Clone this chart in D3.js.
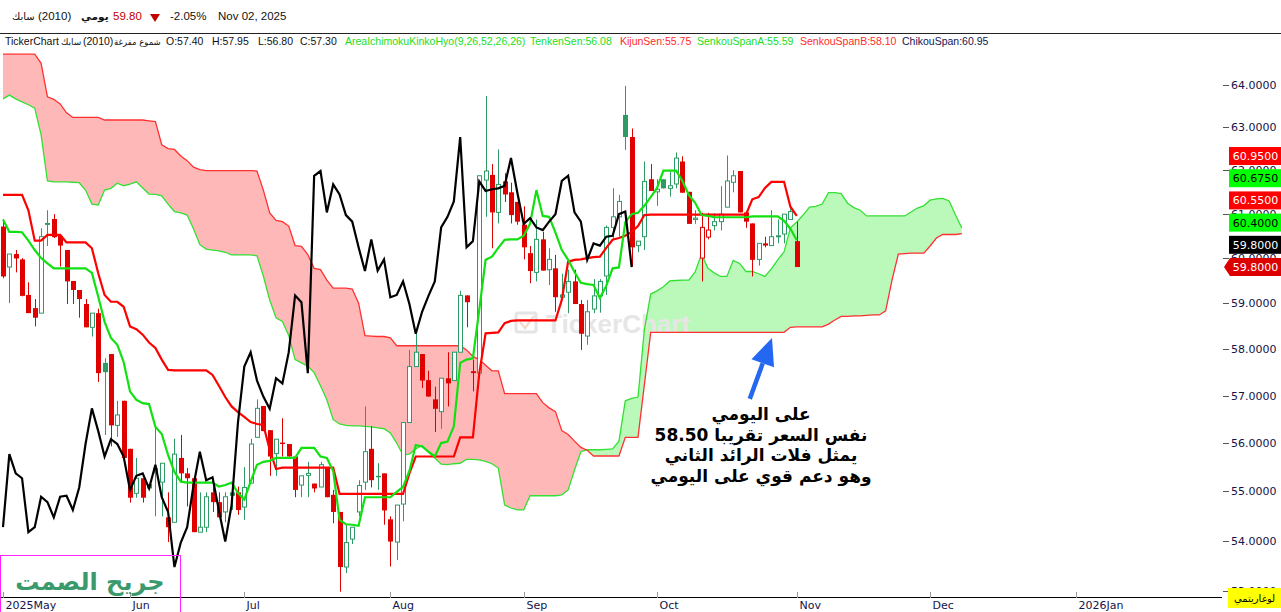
<!DOCTYPE html>
<html><head><meta charset="utf-8">
<script src="https://cdn.jsdelivr.net/npm/d3@7/dist/d3.min.js"></script>
<style>
html,body{margin:0;padding:0;background:#fff;overflow:hidden}
svg{display:block}
</style></head><body>
<svg id="chart" width="1281" height="612"></svg>
<script>
// ---------- DATA ----------
const opens=[60.71,59.80,60.09,59.97,59.18,58.89,58.78,60.76,60.88,60.50,
 60.18,59.49,59.29,58.98,58.47,58.78,57.70,57.89,56.37,56.89,
 55.88,54.96,55.27,55.15,55.48,55.19,54.47,54.37,55.69,55.37,
 55.27,54.17,54.27,54.98,54.78,54.58,54.98,54.98,54.68,55.17,
 56.12,56.78,56.27,55.78,56.01,55.98,55.72,55.13,55.33,55.16,
 55.09,55.48,54.93,54.58,53.47,54.03,54.58,55.19,55.88,55.32,
 55.37,54.43,53.97,54.74,56.43,57.62,57.89,57.33,56.92,56.66,
 57.37,57.32,57.93,59.17,57.52,57.48,61.77,61.89,61.03,61.74,
 61.49,61.27,60.75,60.11,59.68,60.42,59.74,59.77,59.13,59.24,
 59.48,58.98,58.28,58.87,59.16,59.60,60.69,60.93,63.29,62.77,
 60.28,60.48,61.79,61.50,61.79,61.58,61.68,62.20,61.50,60.87,
 60.00,60.47,60.73,60.82,61.15,61.72,61.98,61.03,60.78,59.97,
 60.33,60.28,60.48,60.54,60.87,60.38];
const highs=[60.87,60.09,60.18,60.00,59.46,59.09,60.67,61.08,60.99,60.50,
 60.18,59.49,59.29,59.09,58.78,58.88,57.80,57.89,56.89,56.89,
 55.88,55.69,55.27,55.15,56.35,55.58,54.98,56.09,56.17,55.48,
 55.27,54.98,54.98,55.10,54.98,54.98,55.10,55.10,55.50,56.09,
 56.92,56.78,56.27,56.08,56.52,55.98,55.72,55.32,55.61,55.16,
 55.61,55.48,55.03,54.58,54.32,54.27,55.23,56.77,56.35,55.58,
 55.37,54.49,54.72,56.43,57.98,58.33,57.89,57.53,57.19,57.37,
 57.93,57.93,59.27,59.17,57.77,61.87,63.74,62.14,62.48,61.93,
 61.71,61.27,61.17,60.27,60.87,60.59,60.22,60.07,59.65,59.74,
 59.74,59.07,59.07,59.53,59.53,60.73,61.58,61.43,63.98,62.97,
 60.38,62.20,62.14,61.79,61.79,61.96,62.41,62.32,61.50,61.08,
 61.02,61.02,61.01,61.63,62.34,62.00,61.98,61.03,60.78,60.33,
 60.48,61.08,60.87,60.99,61.20,60.82];
const lows=[59.55,59.00,59.68,59.15,58.78,58.49,58.78,60.27,60.45,59.81,
 58.98,58.98,58.68,58.47,58.27,57.29,56.17,55.93,56.13,55.69,
 54.77,54.87,54.77,55.06,54.49,54.49,53.97,54.37,55.19,54.69,
 54.17,54.17,54.17,54.58,54.47,54.37,54.62,54.52,54.42,55.17,
 56.12,56.25,55.32,55.32,55.72,55.72,54.88,54.88,54.88,54.98,
 55.09,54.88,54.35,52.98,53.35,53.93,54.49,55.03,55.08,55.03,
 54.32,53.48,53.61,54.39,56.43,57.62,57.16,56.98,56.23,56.30,
 56.77,57.32,57.93,58.47,57.09,57.48,60.93,60.22,60.78,61.27,
 60.78,60.75,59.97,59.44,59.48,59.72,59.40,58.81,59.13,58.78,
 58.98,57.98,58.09,58.78,58.79,59.18,60.42,60.48,62.47,59.81,
 60.13,60.18,61.52,61.18,61.58,61.39,61.58,61.48,60.77,60.77,
 59.48,60.42,60.62,60.62,61.15,61.49,61.03,60.68,59.59,59.83,
 60.24,60.28,60.33,60.33,60.87,59.80];
const closes=[59.59,60.09,59.99,59.16,58.78,58.68,60.48,60.78,60.47,60.28,
 59.48,59.29,59.09,58.47,58.78,57.48,57.50,56.37,56.59,55.69,
 54.87,55.27,54.87,55.06,55.37,55.58,54.27,55.77,55.37,55.27,
 54.17,54.27,54.89,54.78,54.47,54.89,54.91,54.62,55.08,55.98,
 56.73,56.25,55.72,56.08,55.98,55.72,55.03,55.32,55.37,55.06,
 55.55,54.88,54.58,53.47,53.96,54.27,55.12,55.82,55.23,55.29,
 54.61,53.98,54.72,56.43,57.62,57.93,57.32,56.98,56.72,57.37,
 57.26,57.93,59.17,59.02,57.48,61.87,61.98,61.03,61.67,61.44,
 60.97,60.82,60.24,59.71,60.42,59.72,59.97,59.13,59.18,59.48,
 58.98,58.33,58.81,59.16,59.48,60.69,60.93,61.28,62.77,60.24,
 60.38,61.74,61.52,61.56,61.58,61.64,62.28,61.48,60.77,60.90,
 60.69,60.63,60.82,60.99,61.75,61.87,61.03,60.82,59.96,60.33,
 60.28,60.48,60.50,60.99,61.05,59.80];
const tenkanSen=[60.87,60.59,60.59,60.58,60.39,60.18,60.00,59.88,59.77,59.77,
 59.77,59.77,59.77,59.77,59.67,59.14,58.59,58.24,58.09,57.72,
 57.09,56.91,56.84,56.82,56.34,56.19,55.75,55.40,55.20,55.18,
 55.18,55.18,55.18,55.18,55.10,55.13,55.18,54.97,54.83,55.20,
 55.55,55.61,55.63,55.69,55.69,55.69,55.69,55.90,55.90,55.90,
 55.72,55.69,55.42,54.42,54.33,54.32,54.30,54.88,54.88,54.88,
 54.88,54.88,54.99,55.09,55.42,55.96,55.93,55.82,55.72,56.00,
 56.03,56.35,57.70,57.77,57.80,58.85,59.96,60.03,60.23,60.41,
 60.42,60.42,60.50,60.77,61.54,60.95,60.93,60.57,60.18,59.96,
 59.69,59.45,59.42,59.40,59.11,59.38,59.77,59.79,60.81,60.99,
 61.02,61.18,61.38,61.59,61.99,61.99,61.99,61.75,61.43,61.25,
 60.97,60.95,60.92,60.92,60.92,60.92,60.92,60.92,60.94,60.94,
 60.94,60.94,60.94,60.84,60.66,60.40];
const kijunSen=[61.43,61.43,61.43,61.43,61.08,60.39,60.39,60.52,60.52,60.52,
 60.35,60.35,60.35,60.35,60.22,59.66,59.18,59.03,59.03,58.92,
 58.49,58.43,58.31,58.14,58.02,57.77,57.55,57.54,57.54,57.54,
 57.54,57.54,57.54,57.44,57.21,56.97,56.77,56.65,56.55,56.44,
 56.40,56.38,55.86,55.46,55.49,55.49,55.49,55.49,55.49,55.49,
 55.49,55.49,55.49,54.95,54.95,54.95,54.95,54.95,54.95,54.95,
 54.95,54.95,54.95,54.95,55.37,55.72,55.72,55.72,55.72,55.72,
 55.72,55.72,56.12,56.12,56.12,57.47,58.34,58.35,58.36,58.56,
 58.61,58.62,58.62,58.62,58.62,58.62,58.62,58.62,59.07,59.92,
 59.96,59.97,60.00,60.02,60.03,60.23,60.41,60.45,60.50,60.59,
 60.72,60.97,60.98,60.98,60.98,60.98,60.98,60.98,60.98,60.98,
 60.98,60.98,60.98,60.98,60.98,60.98,60.98,60.98,61.33,61.38,
 61.59,61.73,61.73,61.73,61.16,60.95];
const senkouSpanA=[63.67,63.76,63.67,63.60,63.53,63.45,62.82,61.75,61.73,61.73,
 61.73,61.72,61.71,61.54,61.22,61.20,61.54,61.58,61.70,61.64,
 61.68,61.73,61.59,61.45,61.44,61.41,61.22,61.05,61.02,60.97,
 60.66,60.30,60.20,60.18,60.16,60.13,60.07,60.07,60.07,60.07,
 60.05,59.60,59.07,58.68,58.60,58.29,57.77,57.70,57.63,57.49,
 57.21,56.91,56.49,56.40,56.37,56.36,56.36,56.35,56.34,56.32,
 56.30,56.21,56.00,55.75,55.77,55.88,55.95,55.81,55.69,55.56,
 55.55,55.57,55.58,55.66,55.66,55.65,55.62,55.57,55.48,54.72,
 54.66,54.62,54.62,54.91,54.91,54.91,54.91,54.91,54.93,55.03,
 55.44,55.82,55.86,55.86,55.86,55.87,55.88,56.04,56.89,56.94,
 56.97,58.41,59.20,59.27,59.36,59.49,59.50,59.51,59.51,59.69,
 60.09,59.77,59.67,59.59,59.59,59.95,59.88,59.70,59.70,59.65,
 59.59,59.76,59.96,60.14,60.68,60.81,60.97,61.15,61.17,61.22,
 61.48,61.48,61.46,61.24,61.14,61.08,60.95,60.95,60.95,60.95,
 60.95,60.95,60.95,61.04,61.13,61.18,61.31,61.34,61.35,61.29,
 60.97,60.675];
const senkouSpanB=[64.74,64.74,64.74,64.74,64.74,64.74,64.52,63.72,63.66,63.55,
 63.34,63.23,63.23,63.23,63.23,63.23,63.17,63.17,63.17,63.17,
 63.17,63.17,63.17,63.15,63.13,62.59,62.50,62.48,62.33,62.22,
 62.07,62.01,61.99,61.99,61.99,61.99,61.99,61.99,61.99,61.99,
 61.98,61.54,61.02,60.85,60.82,60.72,60.28,60.26,60.08,59.77,
 59.74,59.51,59.33,59.33,59.33,59.31,59.00,58.29,58.28,58.27,
 58.27,58.24,58.07,58.07,58.07,58.07,58.07,58.07,58.07,58.07,
 58.07,58.07,58.07,57.98,57.84,57.77,57.65,57.53,57.53,57.04,
 57.04,57.04,57.04,57.04,57.04,56.85,56.74,56.66,56.26,56.18,
 56.04,55.91,55.85,55.73,55.73,55.73,55.73,55.73,56.12,56.12,
 56.12,57.23,58.36,58.36,58.36,58.36,58.36,58.36,58.36,58.36,
 58.36,58.36,58.36,58.36,58.36,58.36,58.36,58.36,58.36,58.36,
 58.36,58.36,58.36,58.36,58.47,58.48,58.48,58.48,58.48,58.48,
 58.54,58.63,58.71,58.71,58.72,58.72,58.73,58.74,58.74,58.83,
 59.51,60.09,60.10,60.11,60.11,60.11,60.27,60.45,60.53,60.53,
 60.53,60.55];
const chikouShift=26;
const chikouSpan=closes.slice(chikouShift); // close plotted 26 bars back
const monthTickIndex=[0,20,38,61,82,103,125,146,169];
const monthTickLabels=["2025May","Jun","Jul","Aug","Sep","Oct","Nov","Dec","2026Jan"];
const priceTicks=[53,54,55,56,57,58,59,60,61,62,63,64];
const lastLabels=[
 {name:"Kijun",value:60.95,kind:"red"},
 {name:"SpanA",value:60.675,kind:"green"},
 {name:"SpanB",value:60.55,kind:"red"},
 {name:"Tenkan",value:60.40,kind:"green"},
 {name:"Chikou",value:59.80,kind:"black"},
 {name:"Price",value:59.80,kind:"price"}];
const noteLines=["على اليومي","نفس السعر تقريبا 58.50","يمثل فلات الرائد الثاني","وهو دعم قوي على اليومي"];

// ---------- LAYOUT ----------
const svg=d3.select("#chart");
const plotRight=1222, plotTop=48, plotBottom=597;
const x=d3.scaleLinear().domain([0,169]).range([3,1076.15]);
const y=d3.scaleLog().domain([53,64]).range([590.7,85]);
const F="'Liberation Sans',Arial,sans-serif";
const FA="'DejaVu Sans',sans-serif";

svg.append("rect").attr("width",1281).attr("height",612).attr("fill","#fff");
const defs=svg.append("defs");
defs.append("clipPath").attr("id","clip").append("rect")
 .attr("x",0).attr("y",plotTop).attr("width",plotRight).attr("height",plotBottom-plotTop);

// header
const hdr=svg.append("g");
function ht(t,xx,yy,col,fam,size,weight){hdr.append("text").attr("x",xx).attr("y",yy).attr("fill",col).attr("font-family",fam).attr("font-size",size).attr("font-weight",weight||"normal").text(t);}
ht("سابك",12,20,"#111",FA,10);
ht("(2010)",38,20,"#111",F,11.5);
ht("يومي",81,20,"#111",FA,10.5,"bold");
ht("59.80",113,20,"#c00000",F,11.5);
hdr.append("path").attr("d","M150,14 L160,14 L155,22 Z").attr("fill","#c00000");
ht("-2.05%",170,20,"#111",F,11.5);
ht("Nov 02, 2025",218,20,"#111",F,11.5);
svg.append("line").attr("x1",0).attr("x2",1281).attr("y1",33.5).attr("y2",33.5).attr("stroke","#222").attr("stroke-width",1);
ht("TickerChart",5,45,"#111",F,10.5);
ht("سابك",61,45,"#111",FA,9);
ht("(2010)",83,45,"#111",F,10.5);
ht("شموع مفرغة",114,45,"#111",FA,8.5);
ht("O:57.40",166,45,"#111",F,10.5);
ht("H:57.95",212,45,"#111",F,10.5);
ht("L:56.80",258,45,"#111",F,10.5);
ht("C:57.30",300,45,"#111",F,10.5);
ht("AreaIchimokuKinkoHyo(9,26,52,26,26)",345,45,"#22dd22",F,10.5);
ht("TenkenSen:56.08",530,45,"#22dd22",F,10.5);
ht("KijunSen:55.75",620,45,"#ff2a2a",F,10.5);
ht("SenkouSpanA:55.59",697,45,"#22dd22",F,10.5);
ht("SenkouSpanB:58.10",800,45,"#ff2a2a",F,10.5);
ht("ChikouSpan:60.95",902,45,"#141450",F,10.5);

const g=svg.append("g").attr("clip-path","url(#clip)");

// cloud
const cIdx=d3.range(senkouSpanA.length);
const pinkArea=d3.area().x(i=>x(i)).y0(i=>y(senkouSpanA[i])).y1(i=>y(Math.max(senkouSpanA[i],senkouSpanB[i])));
const greenArea=d3.area().x(i=>x(i)).y0(i=>y(senkouSpanB[i])).y1(i=>y(Math.max(senkouSpanA[i],senkouSpanB[i])));
g.append("path").attr("d",pinkArea(cIdx)).attr("fill","#ffb8b8");
g.append("path").attr("d",greenArea(cIdx)).attr("fill","#bbf9bb");

// watermark (over the cloud, under the marks)
const wm=g.append("g");
wm.append("rect").attr("x",516).attr("y",313).attr("width",20).attr("height",19).attr("rx",2).attr("fill","none").attr("stroke","#e4e4e4").attr("stroke-width",3);
wm.append("path").attr("d","M520,322 L525,328 L534,316").attr("fill","none").attr("stroke","#f3dcc8").attr("stroke-width",2.5);
wm.append("text").attr("x",546).attr("y",333).attr("font-family",F).attr("font-weight","bold").attr("font-size",26).attr("fill","#e6e6e6").text("TickerChart");

const ln=arr=>d3.line().x((d,i)=>x(i)).y(d=>y(d))(arr);
g.append("path").attr("d",ln(senkouSpanA)).attr("fill","none").attr("stroke","#33e033").attr("stroke-width",1.3);
g.append("path").attr("d",ln(senkouSpanB)).attr("fill","none").attr("stroke","#ff3030").attr("stroke-width",1.3);

// candles
const upCol="#2e9a66", dnCol="#e00000";
const cg=g.append("g");
closes.forEach((c,i)=>{
  const o=opens[i],h=highs[i],l=lows[i];
  const prev=i>0?closes[i-1]:o;
  const col=c<prev?dnCol:upCol;
  const filled=c<o;
  const cx=Math.round(x(i))+0.5;
  cg.append("line").attr("x1",cx).attr("x2",cx).attr("y1",y(h)).attr("y2",y(l)).attr("stroke",col).attr("stroke-width",1);
  const top=y(Math.max(o,c)), bot=y(Math.min(o,c));
  if(filled){
    cg.append("rect").attr("x",cx-2.5).attr("y",top).attr("width",5).attr("height",Math.max(1,bot-top)).attr("fill",col);
  } else {
    cg.append("rect").attr("x",cx-2).attr("y",top).attr("width",4).attr("height",Math.max(1,bot-top)).attr("fill","#fff").attr("stroke",col).attr("stroke-width",1);
  }
});

// tenkan / kijun / chikou
g.append("path").attr("d",ln(kijunSen)).attr("fill","none").attr("stroke","#ff0000").attr("stroke-width",2.2);
g.append("path").attr("d",ln(tenkanSen)).attr("fill","none").attr("stroke","#11e011").attr("stroke-width",2.2);
g.append("path").attr("d",ln(chikouSpan)).attr("fill","none").attr("stroke","#000").attr("stroke-width",2.2);

// annotation arrow
const tip=[x(121.1),y(58.24)], tail=[x(117.6),y(56.93)];
const ang=Math.atan2(tip[1]-tail[1],tip[0]-tail[0]);
const hb=[tip[0]-27*Math.cos(ang),tip[1]-27*Math.sin(ang)];
g.append("line").attr("x1",tail[0]).attr("y1",tail[1]).attr("x2",hb[0]).attr("y2",hb[1]).attr("stroke","#2468f2").attr("stroke-width",4.5);
const px=-Math.sin(ang),py=Math.cos(ang);
g.append("path").attr("d",`M${tip[0]},${tip[1]} L${hb[0]+12*px},${hb[1]+12*py} L${hb[0]-12*px},${hb[1]-12*py} Z`).attr("fill","#2468f2");

// annotation text
noteLines.forEach((t,k)=>{
  svg.append("text").attr("x",761).attr("y",420+k*20.5).attr("text-anchor","middle").attr("direction","rtl")
   .attr("font-family",FA).attr("font-weight","bold").attr("font-size",17).attr("fill","#000").text(t);
});

// x axis
svg.append("line").attr("x1",0).attr("x2",plotRight).attr("y1",597.5).attr("y2",597.5).attr("stroke","#000").attr("stroke-width",1.2);
monthTickIndex.forEach((m,k)=>{
  const xx=Math.round(x(m))+0.5;
  svg.append("line").attr("x1",xx).attr("x2",xx).attr("y1",592).attr("y2",598).attr("stroke","#9a9a9a");
  svg.append("text").attr("x",xx+2).attr("y",609).attr("font-family",FA).attr("font-size",11).attr("fill","#14144a").text(monthTickLabels[k]);
});

// y axis (right)
priceTicks.forEach(p=>{
  const yy=Math.round(y(p))+0.5;
  svg.append("line").attr("x1",1223).attr("x2",1229).attr("y1",yy).attr("y2",yy).attr("stroke","#555");
  svg.append("text").attr("x",1231).attr("y",yy).attr("dy","0.35em").attr("font-family",FA).attr("font-size",11).attr("fill","#14144a").text(d3.format(".4f")(p));
});

// last-value tags, stacked upward
const tags=lastLabels.slice().sort((a,b)=>a.value-b.value||(a.kind==="price"?-1:1));
let prevY=Infinity;
tags.forEach(t=>{
  let cy=y(t.value);
  if(cy>prevY-22.2) cy=prevY-22.2;
  prevY=cy;
  const bg={red:"#ff0000",green:"#00ff00",black:"#000",price:"#dd0000"}[t.kind];
  const fg=t.kind==="green"?"#000":"#fff";
  if(t.kind==="price"){
    svg.append("path").attr("d",`M1224,${cy} L1230,${cy-9} L1281,${cy-9} L1281,${cy+9} L1230,${cy+9} Z`).attr("fill",bg);
  } else {
    svg.append("rect").attr("x",1229).attr("y",cy-9).attr("width",52).attr("height",18).attr("fill",bg);
  }
  svg.append("text").attr("x",1255.5).attr("y",cy).attr("dy","0.36em").attr("text-anchor","middle").attr("font-family",FA).attr("font-size",11).attr("fill",fg).text(d3.format(".4f")(t.value));
});

// logarithmic tag
svg.append("rect").attr("x",1228).attr("y",588).attr("width",53).attr("height",20).attr("fill","#ffff00");
svg.append("text").attr("x",1254.5).attr("y",598).attr("dy","0.35em").attr("text-anchor","middle").attr("font-family",FA).attr("font-size",10).attr("fill","#000").text("لوغاريتمي");

// signature box
svg.append("rect").attr("x",0.5).attr("y",555.5).attr("width",180).attr("height",60).attr("fill","none").attr("stroke","#ff22ff").attr("stroke-width",1);
svg.append("text").attr("x",90).attr("y",590).attr("text-anchor","middle").attr("direction","rtl").attr("font-family",FA).attr("font-weight","bold").attr("font-size",24).attr("fill","#3a9a6c").text("جريح الصمت");
</script></body></html>
